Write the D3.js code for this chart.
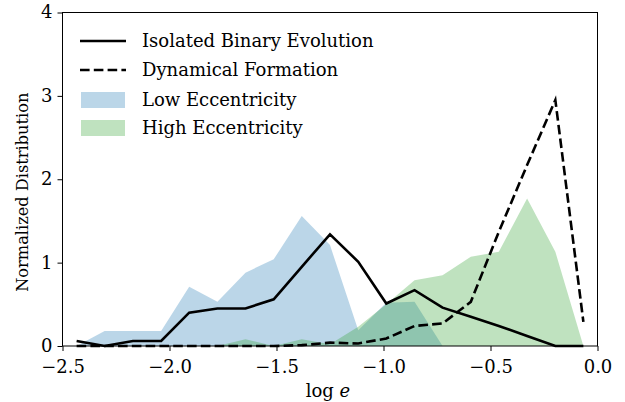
<!DOCTYPE html>
<html>
<head>
<meta charset="utf-8">
<script src="https://cdn.jsdelivr.net/npm/d3@7"></script>
<style>
  html, body { margin: 0; padding: 0; background: #fff; }
  svg { display: block; }
  text { font-family: "DejaVu Serif", serif; fill: #000; }
</style>
</head>
<body>
<svg id="chart" width="625" height="402"></svg>
<script>
// ---- data ----
const binCenters = [-2.434, -2.303, -2.171, -2.039, -1.908, -1.776, -1.645, -1.513, -1.382, -1.250,
                    -1.118, -0.987, -0.855, -0.724, -0.592, -0.461, -0.329, -0.197, -0.066];
const isolated   = [0.06, 0.00, 0.06, 0.06, 0.40, 0.45, 0.45, 0.56, 0.95, 1.34,
                    1.01, 0.51, 0.67, 0.46, 0.35, 0.24, 0.12, 0.00, 0.00];
const dynamical  = [0.00, 0.00, 0.00, 0.00, 0.00, 0.00, 0.00, 0.00, 0.01, 0.04,
                    0.03, 0.09, 0.24, 0.27, 0.53, 1.37, 2.17, 2.95, 0.29];
const lowEcc     = [0.00, 0.18, 0.18, 0.18, 0.71, 0.53, 0.88, 1.04, 1.56, 1.21,
                    0.19, 0.52, 0.53, 0.00, 0.00, 0.00, 0.00, 0.00, 0.00];
const highEcc    = [0.00, 0.00, 0.00, 0.00, 0.00, 0.00, 0.08, 0.00, 0.08, 0.02,
                    0.23, 0.50, 0.79, 0.85, 1.07, 1.13, 1.77, 1.13, 0.00];
const xTicks = [-2.5, -2.0, -1.5, -1.0, -0.5, 0.0];
const yTicks = [0, 1, 2, 3, 4];
const legendLabels = ["Isolated Binary Evolution", "Dynamical Formation", "Low Eccentricity", "High Eccentricity"];

// ---- drawing ----
const svg = d3.select("#chart");
const L = 62.5, R = 597.5, T = 12.5, B = 346;
const x = d3.scaleLinear().domain([-2.5, 0]).range([L, R]);
const y = d3.scaleLinear().domain([0, 4]).range([B, T]);

const blue = "#1f77b4", green = "#2ca02c";
const area = vals => d3.area().x((d, i) => x(binCenters[i])).y0(y(0)).y1(d => y(d))(vals);
const line = vals => d3.line().x((d, i) => x(binCenters[i])).y(d => y(d))(vals);

svg.append("path").attr("d", area(lowEcc)).attr("fill", blue).attr("fill-opacity", 0.3);
svg.append("path").attr("d", area(highEcc)).attr("fill", green).attr("fill-opacity", 0.3);
svg.append("path").attr("d", line(isolated)).attr("fill", "none").attr("stroke", "#000")
   .attr("stroke-width", 2.6).attr("stroke-linejoin", "miter");
svg.append("path").attr("d", line(dynamical)).attr("fill", "none").attr("stroke", "#000")
   .attr("stroke-width", 2.6).attr("stroke-dasharray", "9.6,4.2");

// frame
svg.append("rect").attr("x", L).attr("y", T).attr("width", R - L).attr("height", B - T)
   .attr("fill", "none").attr("stroke", "#000").attr("stroke-width", 1);

const fmt = v => (v < 0 ? "\u2212" : "") + Math.abs(v).toFixed(1);
const xAxis = d3.axisBottom(x).tickValues(xTicks).tickFormat(fmt).tickSizeOuter(0).tickSize(5).tickPadding(9);
const gx = svg.append("g").attr("transform", `translate(0,${B})`).call(xAxis);
gx.select(".domain").remove();
gx.selectAll("text").attr("font-family", "DejaVu Serif").attr("font-size", 18).attr("fill", "#000");

const yAxis = d3.axisLeft(y).tickValues(yTicks).tickFormat(d3.format("d")).tickSizeOuter(0).tickSize(5).tickPadding(5);
const gy = svg.append("g").attr("transform", `translate(${L},0)`).call(yAxis);
gy.select(".domain").remove();
gy.selectAll("text").attr("font-family", "DejaVu Serif").attr("font-size", 18).attr("fill", "#000")
  .attr("dy", "0.3em");

// axis labels
const xl = svg.append("text").attr("x", (L + R) / 2 - 2).attr("y", 397).attr("text-anchor", "middle")
   .attr("font-size", 18);
xl.append("tspan").text("log ");
xl.append("tspan").attr("font-style", "italic").text("e");

svg.append("text").attr("transform", `translate(28,${(T + B) / 2 + 13}) rotate(-90)`)
   .attr("text-anchor", "middle").attr("font-size", 16.2).text("Normalized Distribution");

// legend
const lg = svg.append("g");
const rows = [41, 70, 100, 128];
lg.append("line").attr("x1", 80).attr("x2", 126).attr("y1", rows[0]).attr("y2", rows[0])
  .attr("stroke", "#000").attr("stroke-width", 2.6);
lg.append("line").attr("x1", 80).attr("x2", 126).attr("y1", rows[1]).attr("y2", rows[1])
  .attr("stroke", "#000").attr("stroke-width", 2.6).attr("stroke-dasharray", "9.6,4.2");
lg.append("rect").attr("x", 81).attr("y", rows[2] - 8).attr("width", 44).attr("height", 16)
  .attr("fill", blue).attr("fill-opacity", 0.3);
lg.append("rect").attr("x", 81).attr("y", rows[3] - 8).attr("width", 44).attr("height", 16)
  .attr("fill", green).attr("fill-opacity", 0.3);
legendLabels.forEach((t, i) => {
  lg.append("text").attr("x", 142).attr("y", rows[i]).attr("dy", "0.35em")
    .attr("font-size", 18).text(t);
});
</script>
</body>
</html>
